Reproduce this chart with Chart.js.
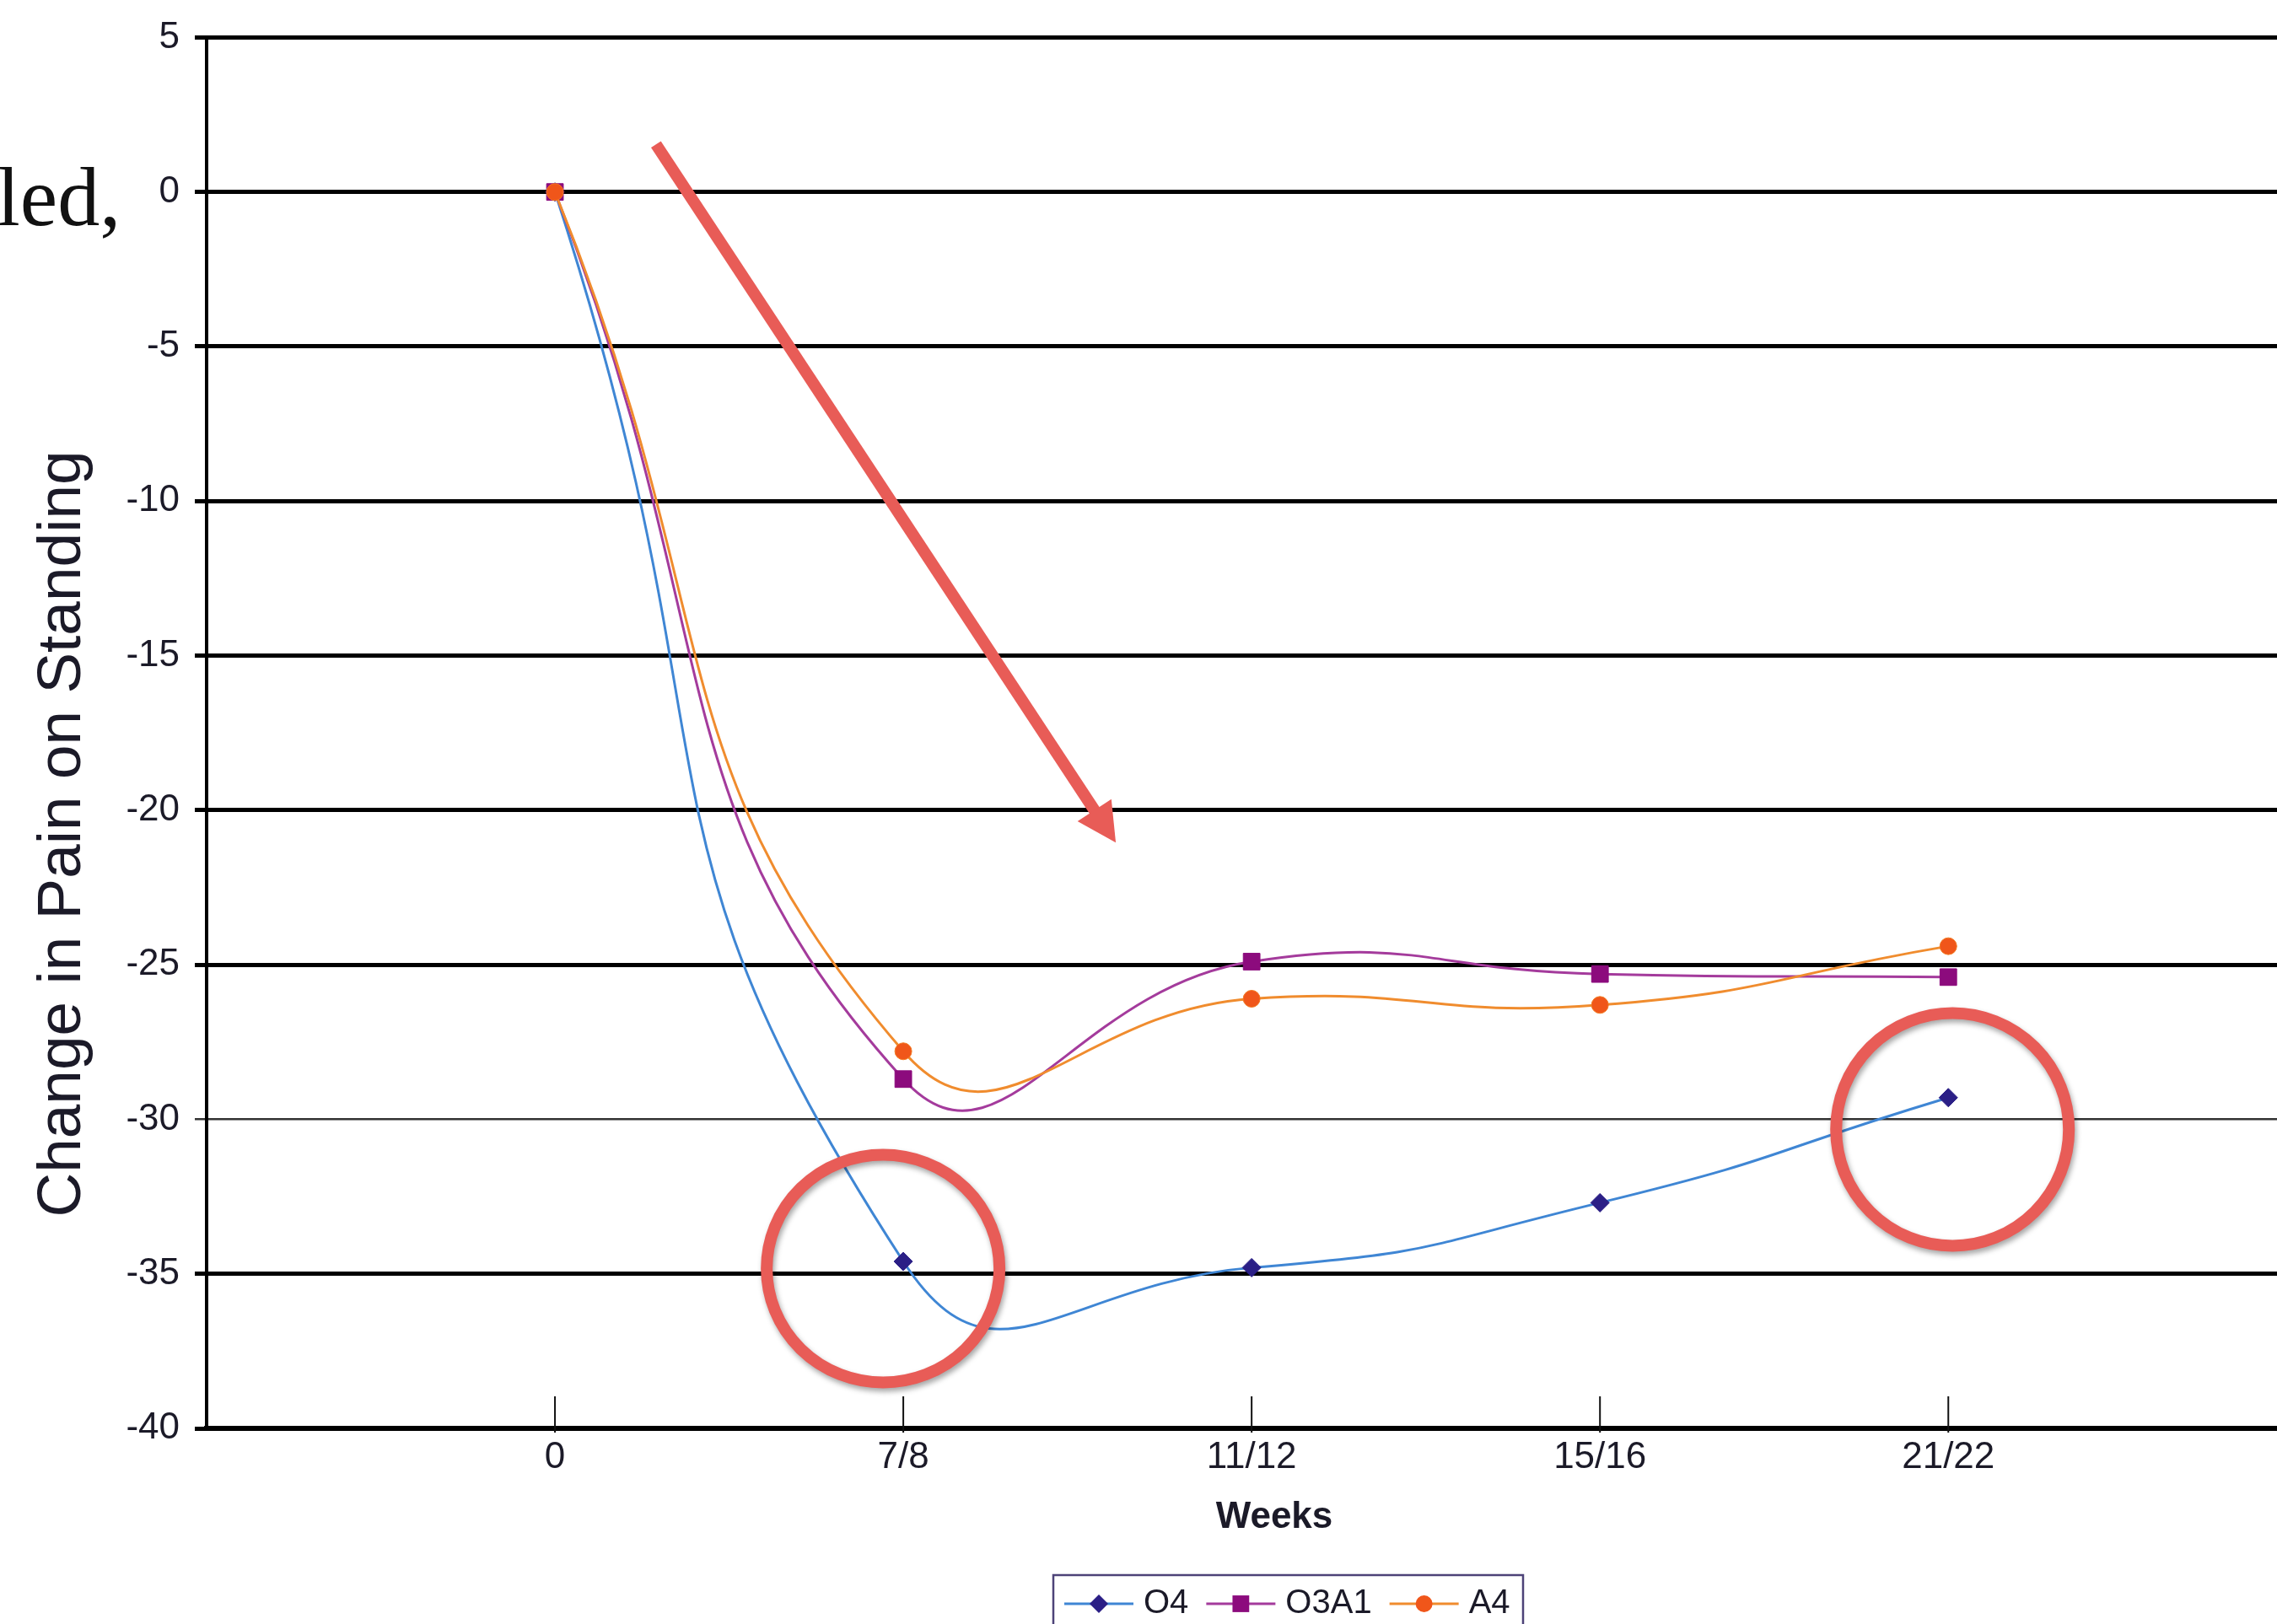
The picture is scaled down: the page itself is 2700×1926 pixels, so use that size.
<!DOCTYPE html>
<html>
<head>
<meta charset="utf-8">
<title>Change in Pain on Standing</title>
<script src="https://cdn.jsdelivr.net/npm/chart.js@4.4.1/dist/chart.umd.min.js"></script>
<style>
  html, body { margin: 0; padding: 0; background: #fff; overflow: hidden; }
  #wrap { position: relative; width: 2700px; height: 1926px; overflow: hidden; }
  #myChart { position: absolute; left: 0; top: 0; }
</style>
</head>
<body>
<div id="wrap">
  <canvas id="myChart" width="2800" height="1926" style="width:2800px;height:1926px"></canvas>
</div>
<script>
// weeks on the x axis, change in pain score per group
const weeks = ['0', '7/8', '11/12', '15/16', '21/22'];
const o4    = [0, -34.6, -34.8, -32.7, -29.3];
const o3a1  = [0, -28.7, -24.9, -25.3, -25.4];
const a4    = [0, -27.8, -26.1, -26.3, -24.4];
const yMin = -40, yMax = 5, yStep = 5;

const FONT = '"Liberation Sans", Arial, sans-serif';
const INK = '#1b1a28';

const toPoints = arr => arr.map((v, i) => ({ x: i, y: v }));

// small tick marks standing up from the x axis
const insideTicks = {
  id: 'insideTicks',
  beforeDatasetsDraw(chart) {
    const { ctx, chartArea } = chart;
    const x = chart.scales.x;
    ctx.save();
    ctx.strokeStyle = '#111';
    ctx.lineWidth = 2;
    x.ticks.forEach(t => {
      const px = x.getPixelForValue(t.value);
      ctx.beginPath();
      ctx.moveTo(px, chartArea.bottom - 38);
      ctx.lineTo(px, chartArea.bottom + 5);
      ctx.stroke();
    });
    ctx.restore();
  }
};

// rotated y title, sits a bit lower than the plot centre
const yTitle = {
  id: 'yTitle',
  afterDraw(chart) {
    const ctx = chart.ctx;
    ctx.save();
    ctx.translate(95, 989);
    ctx.rotate(-Math.PI / 2);
    ctx.font = '73px ' + FONT;
    ctx.fillStyle = INK;
    ctx.textAlign = 'center';
    ctx.textBaseline = 'alphabetic';
    ctx.fillText('Change in Pain on Standing', 0, 0);
    ctx.restore();
  }
};

function drawMarker(ctx, style, x, y, r, color) {
  ctx.fillStyle = color;
  ctx.beginPath();
  if (style === 'rectRot') {
    ctx.moveTo(x, y - r); ctx.lineTo(x + r, y); ctx.lineTo(x, y + r); ctx.lineTo(x - r, y);
    ctx.closePath();
  } else if (style === 'rect') {
    const s = r * Math.SQRT1_2;
    ctx.rect(x - s, y - s, 2 * s, 2 * s);
  } else {
    ctx.arc(x, y, r, 0, Math.PI * 2);
  }
  ctx.fill();
}

// boxed legend under the axis title
const boxLegend = {
  id: 'boxLegend',
  afterDraw(chart) {
    const ctx = chart.ctx;
    const top = 1868, left = 1249, right = 1806, cy = 1902;
    ctx.save();
    ctx.strokeStyle = '#4d4378';
    ctx.lineWidth = 2.5;
    ctx.strokeRect(left, top, right - left, 90);
    ctx.font = '40px ' + FONT;
    ctx.textBaseline = 'middle';
    let xPos = 1262;
    chart.data.datasets.forEach(ds => {
      ctx.strokeStyle = ds.borderColor;
      ctx.lineWidth = 3;
      ctx.beginPath();
      ctx.moveTo(xPos, cy);
      ctx.lineTo(xPos + 82, cy);
      ctx.stroke();
      drawMarker(ctx, ds.pointStyle, xPos + 41, cy, ds.pointRadius, ds.pointBackgroundColor);
      xPos += 82 + 12;
      ctx.fillStyle = INK;
      ctx.fillText(ds.label, xPos, cy);
      xPos += ctx.measureText(ds.label).width + 21;
    });
    ctx.restore();
  }
};

// red call-outs: arrow and two rings, placed in data space
const callouts = {
  id: 'callouts',
  afterDraw(chart) {
    const { ctx } = chart;
    const x = chart.scales.x, y = chart.scales.y;
    const red = '#e85c57';
    ctx.save();

    // arrow
    const x0 = x.getPixelForValue(0.29), y0 = y.getPixelForValue(1.54);
    const x1 = x.getPixelForValue(1.61), y1 = y.getPixelForValue(-21.05);
    const len = Math.hypot(x1 - x0, y1 - y0);
    const ux = (x1 - x0) / len, uy = (y1 - y0) / len;
    const head = 46, half = 24;
    const bx = x1 - ux * head, by = y1 - uy * head;
    ctx.strokeStyle = red;
    ctx.fillStyle = red;
    ctx.lineWidth = 14;
    ctx.beginPath();
    ctx.moveTo(x0, y0);
    ctx.lineTo(bx + ux * 2, by + uy * 2);
    ctx.stroke();
    ctx.beginPath();
    ctx.moveTo(x1, y1);
    ctx.lineTo(bx - uy * half, by + ux * half);
    ctx.lineTo(bx + uy * half, by - ux * half);
    ctx.closePath();
    ctx.fill();

    // rings
    ctx.shadowColor = 'rgba(0,0,0,0.35)';
    ctx.shadowBlur = 6;
    ctx.shadowOffsetX = 2;
    ctx.shadowOffsetY = 4;
    ctx.lineWidth = 14;
    [[0.942, -34.83, 138, 135], [4.012, -30.33, 138, 138]].forEach(c => {
      ctx.beginPath();
      ctx.ellipse(x.getPixelForValue(c[0]), y.getPixelForValue(c[1]), c[2], c[3], 0, 0, Math.PI * 2);
      ctx.stroke();
    });
    ctx.restore();

    // bit of body text left of the chart
    ctx.save();
    ctx.font = '100px "Liberation Serif", serif';
    ctx.fillStyle = '#111';
    ctx.textBaseline = 'alphabetic';
    ctx.fillText('led,', -4, 267);
    ctx.restore();
  }
};

const ctx = document.getElementById('myChart');

new Chart(ctx, {
  type: 'line',
  data: {
    datasets: [{
      label: 'O4',
      data: toPoints(o4),
      order: 2,
      borderColor: '#3f86d4',
      borderWidth: 3,
      pointStyle: 'rectRot',
      pointRadius: 11,
      pointBackgroundColor: '#2b1f86',
      pointBorderColor: '#2b1f86',
      pointBorderWidth: 1,
      tension: 0.55
    }, {
      label: 'O3A1',
      data: toPoints(o3a1),
      order: 1,
      borderColor: '#a43b9c',
      borderWidth: 3,
      pointStyle: 'rect',
      pointRadius: 14,
      pointBackgroundColor: '#8c0b7d',
      pointBorderColor: '#8c0b7d',
      pointBorderWidth: 1,
      tension: 0.5
    }, {
      label: 'A4',
      data: toPoints(a4),
      order: 0,
      borderColor: '#f08c2e',
      borderWidth: 3,
      pointStyle: 'circle',
      pointRadius: 10,
      pointBackgroundColor: '#f0561a',
      pointBorderColor: '#f27a22',
      pointBorderWidth: 1,
      tension: 0.5
    }]
  },
  options: {
    responsive: false,
    animation: false,
    devicePixelRatio: 1,
    layout: { padding: { left: 0, top: 41, right: 23, bottom: 0 } },
    plugins: {
      legend: { display: false },
      tooltip: { enabled: false }
    },
    scales: {
      x: {
        type: 'linear',
        min: -1,
        max: 5.13,
        afterBuildTicks: s => { s.ticks = weeks.map((w, i) => ({ value: i })); },
        afterFit: s => { s.height = 232; },
        grid: { display: false, drawTicks: false },
        border: { display: true, color: '#000', width: 6 },
        ticks: {
          callback: v => weeks[v],
          autoSkip: false,
          maxRotation: 0,
          padding: 8,
          color: INK,
          font: { family: FONT, size: 44 }
        },
        title: {
          display: true,
          text: 'Weeks',
          color: INK,
          font: { family: FONT, size: 44, weight: 'bold' },
          padding: { top: 0, bottom: 100 }
        }
      },
      y: {
        min: yMin,
        max: yMax,
        afterFit: s => { s.width = 245; },
        ticks: {
          stepSize: yStep,
          padding: 18,
          color: INK,
          font: { family: FONT, size: 44 }
        },
        grid: {
          color: c => (c.tick && c.tick.value === -30) ? '#333' : '#000',
          lineWidth: c => (c.tick && c.tick.value === -30) ? 2.5 : 5,
          tickLength: 14
        },
        border: { color: '#000', width: 4 }
      }
    }
  },
  plugins: [insideTicks, yTitle, boxLegend, callouts]
});
</script>
</body>
</html>
